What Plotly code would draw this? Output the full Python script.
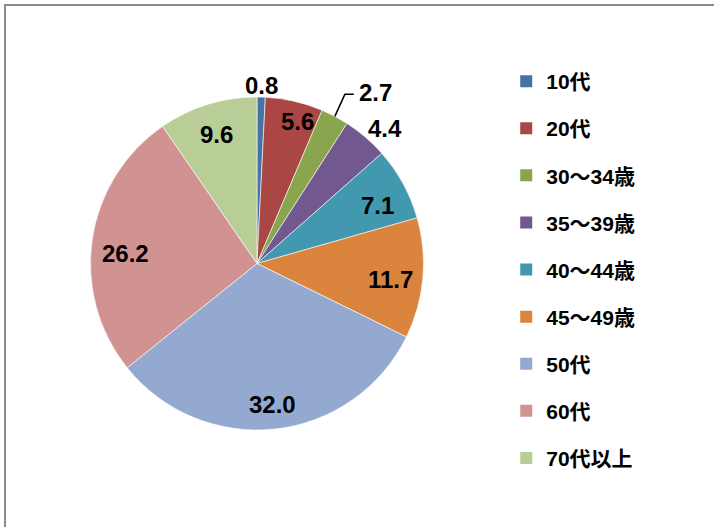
import math
import plotly.graph_objects as go

# ---- data ----
categories = ["10代", "20代", "30～34歳", "35～39歳", "40～44歳", "45～49歳", "50代", "60代", "70代以上"]
values = [0.8, 5.6, 2.7, 4.4, 7.1, 11.7, 32.0, 26.2, 9.6]
value_labels = ["0.8", "5.6", "2.7", "4.4", "7.1", "11.7", "32.0", "26.2", "9.6"]
colors = ["#4572A7", "#AA4643", "#89A54E", "#71588F", "#4198AF",
          "#DB843D", "#93A9CF", "#D19392", "#B9CD96"]

# ---- layout geometry (pixels) ----
W, H = 714, 527
CX, CY, R = 257.0, 263.5, 166.5
# label placement: radial factor and small angular nudge (degrees)
label_f = [1.07, 0.885, None, 1.12, 0.80, 0.805, 0.855, 0.79, 0.81]
label_dt = [0.0, 3.0, 0.0, 2.8, 3.0, 1.8, 0.0, -3.8, 0.0]

FONT = "Liberation Sans, Arial, Noto Sans CJK JP, sans-serif"

fig = go.Figure()
fig.add_trace(go.Pie(
    labels=categories, values=values, sort=False, direction="clockwise", rotation=0,
    marker=dict(colors=colors, line=dict(color="white", width=0.6)),
    textinfo="none", hoverinfo="label+value", showlegend=False,
    domain=dict(x=[(CX - R) / W, (CX + R) / W], y=[(H - CY - R) / H, (H - CY + R) / H]),
))

# legend via dummy traces so spacing can be controlled
for i, (c, col) in enumerate(zip(categories, colors)):
    fig.add_trace(go.Scatter(
        x=[None], y=[None], mode="markers", name=c, legendgroup=f"g{i}",
        marker=dict(symbol="square", size=12, color=col), showlegend=True,
    ))

def px(x, y):
    return x / W, 1 - y / H

total = sum(values)
annotations = []
shapes = []
cum = 0.0
for i, v in enumerate(values):
    mid = (cum + v / 2) / total * 360.0
    cum += v
    if label_f[i] is None:
        # leader-line label
        a = math.radians(mid)
        x0, y0 = CX + R * math.sin(a), CY - R * math.cos(a)
        x1, y1 = x0 + 10, y0 - 22
        x2, y2 = x1 + 9, y1
        p0, p1, p2 = px(x0, y0), px(x1, y1), px(x2, y2)
        shapes.append(dict(type="path", xref="paper", yref="paper",
                           path=f"M {p0[0]} {p0[1]} L {p1[0]} {p1[1]} L {p2[0]} {p2[1]}",
                           line=dict(color="black", width=1.5)))
        tx, ty = px(x2 + 3, y2 - 2)
        annotations.append(dict(x=tx, y=ty, xref="paper", yref="paper", text=value_labels[i],
                                showarrow=False, xanchor="left", yanchor="middle",
                                font=dict(family=FONT, size=24, color="black", weight="bold")))
        continue
    a = math.radians(mid + label_dt[i])
    x = CX + label_f[i] * R * math.sin(a)
    y = CY - label_f[i] * R * math.cos(a)
    tx, ty = px(x, y)
    annotations.append(dict(x=tx, y=ty, xref="paper", yref="paper", text=value_labels[i],
                            showarrow=False, xanchor="center", yanchor="middle",
                            font=dict(family=FONT, size=24, color="black", weight="bold")))

# outer chart frame
shapes.append(dict(type="rect", xref="paper", yref="paper", x0=5 / W, x1=1.05, y0=-0.05, y1=1 - 5 / H,
                   line=dict(color="#8c8c8c", width=2), layer="above"))

fig.update_layout(
    width=W, height=H,
    margin=dict(l=0, r=0, t=0, b=0),
    paper_bgcolor="white", plot_bgcolor="white",
    xaxis=dict(visible=False), yaxis=dict(visible=False),
    showlegend=True,
    legend=dict(x=0.709, y=1 - 61 / H, xanchor="left", yanchor="top",
                traceorder="grouped", tracegroupgap=16.8, itemsizing="trace",
                font=dict(family=FONT, size=21, color="black", weight="bold"),
                bgcolor="rgba(0,0,0,0)"),
    annotations=annotations, shapes=shapes,
)

fig.write_html("out.html", config={"displayModeBar": False},
               post_script="document.body.style.margin='0';")
